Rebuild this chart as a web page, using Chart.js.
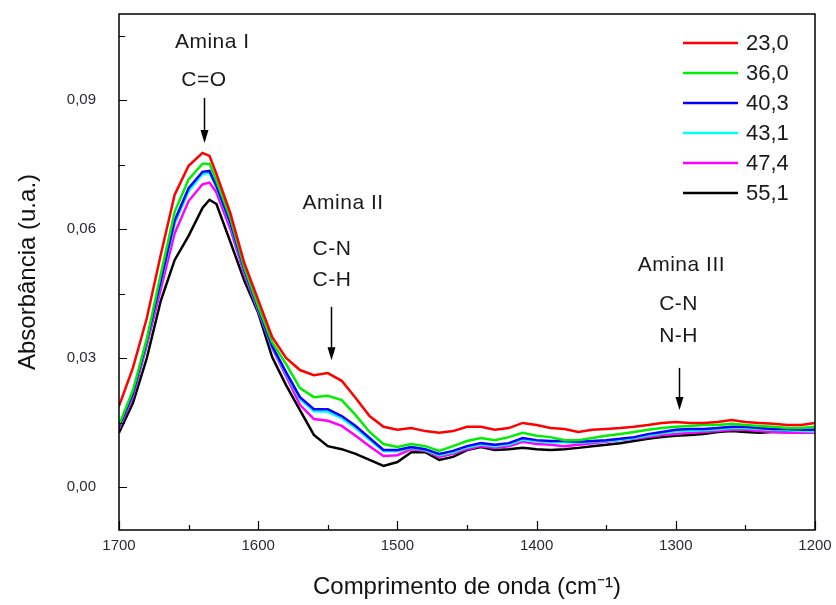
<!DOCTYPE html>
<html>
<head>
<meta charset="utf-8">
<script src="https://cdn.jsdelivr.net/npm/chart.js@4/dist/chart.umd.min.js"></script>
<style>
  html, body { margin: 0; padding: 0; background: #fff; }
  #wrap { width: 836px; height: 605px; }
</style>
</head>
<body>
<div id="wrap"><canvas id="ftir"></canvas></div>
<script>
'use strict';

// 파수 (cm-1), 왼쪽 1700 -> 오른쪽 1200
const wavenumbers = [1700, 1690, 1680, 1670, 1660, 1650, 1640, 1635, 1630, 1620, 1610, 1600,
    1590, 1580, 1570, 1560, 1550, 1540, 1530, 1520, 1510, 1500,
    1490, 1480, 1470, 1460, 1450, 1440, 1430, 1420, 1410, 1400,
    1390, 1380, 1370, 1360, 1350, 1340, 1330, 1320, 1310, 1300,
    1290, 1280, 1270, 1260, 1250, 1240, 1230, 1220, 1210, 1200];

// 흡광도 (u.a.) - 온도별
const abs_23_0 = [0.0188, 0.0277, 0.0393, 0.0540, 0.0680, 0.0747, 0.0777, 0.0770, 0.0728, 0.0637, 0.0521, 0.0435,
    0.0349, 0.0300, 0.0272, 0.0260, 0.0265, 0.0247, 0.0207, 0.0165, 0.0140, 0.0133,
    0.0137, 0.0130, 0.0126, 0.0130, 0.0140, 0.0140, 0.0133, 0.0137, 0.0149, 0.0144,
    0.0137, 0.0135, 0.0128, 0.0133, 0.0135, 0.0137, 0.0140, 0.0144, 0.0149, 0.0151,
    0.0149, 0.0149, 0.0151, 0.0156, 0.0151, 0.0149, 0.0147, 0.0144, 0.0144, 0.0149];
const abs_36_0 = [0.0144, 0.0225, 0.0345, 0.0495, 0.0640, 0.0715, 0.0752, 0.0752, 0.0712, 0.0625, 0.0510, 0.0420,
    0.0337, 0.0286, 0.0230, 0.0209, 0.0212, 0.0202, 0.0167, 0.0128, 0.0100, 0.0093,
    0.0100, 0.0095, 0.0084, 0.0095, 0.0107, 0.0114, 0.0109, 0.0116, 0.0126, 0.0119,
    0.0116, 0.0109, 0.0109, 0.0114, 0.0119, 0.0123, 0.0128, 0.0133, 0.0137, 0.0140,
    0.0142, 0.0144, 0.0144, 0.0147, 0.0144, 0.0142, 0.0140, 0.0137, 0.0137, 0.0140];
const abs_40_3 = [0.0140, 0.0218, 0.0340, 0.0480, 0.0620, 0.0695, 0.0733, 0.0735, 0.0700, 0.0615, 0.0505, 0.0415,
    0.0328, 0.0267, 0.0209, 0.0181, 0.0181, 0.0165, 0.0142, 0.0114, 0.0086, 0.0086,
    0.0093, 0.0088, 0.0077, 0.0084, 0.0095, 0.0102, 0.0098, 0.0102, 0.0114, 0.0109,
    0.0107, 0.0107, 0.0105, 0.0107, 0.0109, 0.0112, 0.0116, 0.0123, 0.0128, 0.0133,
    0.0135, 0.0135, 0.0137, 0.0140, 0.0140, 0.0137, 0.0135, 0.0135, 0.0133, 0.0133];
const abs_43_1 = [0.0140, 0.0218, 0.0338, 0.0478, 0.0612, 0.0688, 0.0728, 0.0730, 0.0697, 0.0612, 0.0503, 0.0413,
    0.0326, 0.0264, 0.0204, 0.0176, 0.0175, 0.0160, 0.0137, 0.0110, 0.0083, 0.0083,
    0.0091, 0.0086, 0.0074, 0.0081, 0.0092, 0.0099, 0.0095, 0.0099, 0.0110, 0.0106,
    0.0104, 0.0104, 0.0103, 0.0105, 0.0107, 0.0110, 0.0114, 0.0120, 0.0125, 0.0129,
    0.0131, 0.0132, 0.0134, 0.0137, 0.0137, 0.0135, 0.0133, 0.0132, 0.0130, 0.0129];
const abs_47_4 = [0.0135, 0.0210, 0.0330, 0.0460, 0.0590, 0.0665, 0.0704, 0.0708, 0.0685, 0.0600, 0.0495, 0.0410,
    0.0323, 0.0258, 0.0191, 0.0158, 0.0154, 0.0142, 0.0119, 0.0095, 0.0072, 0.0074,
    0.0088, 0.0084, 0.0070, 0.0077, 0.0088, 0.0095, 0.0091, 0.0095, 0.0105, 0.0100,
    0.0098, 0.0095, 0.0098, 0.0102, 0.0105, 0.0109, 0.0112, 0.0116, 0.0121, 0.0123,
    0.0126, 0.0128, 0.0130, 0.0133, 0.0133, 0.0130, 0.0128, 0.0126, 0.0126, 0.0126];
const abs_55_1 = [0.0126, 0.0195, 0.0300, 0.0433, 0.0528, 0.0584, 0.0649, 0.0668, 0.0658, 0.0570, 0.0480, 0.0405,
    0.0302, 0.0237, 0.0179, 0.0121, 0.0095, 0.0088, 0.0077, 0.0063, 0.0049, 0.0058,
    0.0081, 0.0081, 0.0063, 0.0070, 0.0086, 0.0093, 0.0086, 0.0088, 0.0091, 0.0088,
    0.0086, 0.0088, 0.0091, 0.0095, 0.0098, 0.0102, 0.0107, 0.0112, 0.0116, 0.0119,
    0.0121, 0.0123, 0.0128, 0.0130, 0.0128, 0.0126, 0.0128, 0.0128, 0.0128, 0.0133];

const seriesLabels = ['23,0', '36,0', '40,3', '43,1', '47,4', '55,1'];
const seriesColors = ['#ff0000', '#00ee00', '#0000ff', '#00ffff', '#ff00ff', '#000000'];
const seriesValues = [abs_23_0, abs_36_0, abs_40_3, abs_43_1, abs_47_4, abs_55_1];

// 눈금
const xMajorTicks = [1700, 1600, 1500, 1400, 1300, 1200];
const xMinorTicks = [1650, 1550, 1450, 1350, 1250];
const yMajorTicks = [0, 0.03, 0.06, 0.09];
const yMinorTicks = [0.015, 0.045, 0.075, 0.105];

// 주석 (화살표 + 글자), 데이터 좌표 기준
const notes = [
    { lines: [['Amina I', 1633, 0.1035], ['C=O', 1639, 0.0947]], arrow: [1639, 0.0905, 0.0800] },
    { lines: [['Amina II', 1539, 0.0661], ['C-N', 1547, 0.0553], ['C-H', 1547, 0.0480]], arrow: [1548, 0.0419, 0.0295] },
    { lines: [['Amina III', 1296, 0.0516], ['C-N', 1298, 0.0425], ['N-H', 1298, 0.0351]], arrow: [1298, 0.0277, 0.0179] }
];

const FONT = "'Liberation Sans', Arial, sans-serif";

// 틀, 안쪽 눈금, 주석, 범례 그리기
const framePlugin = {
    id: 'frame',
    afterDraw(chart) {
        const ctx = chart.ctx;
        const a = chart.chartArea;
        const xs = chart.scales.x;
        const ys = chart.scales.y;

        ctx.save();
        ctx.strokeStyle = '#000';
        ctx.lineWidth = 1.5;
        ctx.strokeRect(a.left, a.top, a.right - a.left, a.bottom - a.top);

        // 안쪽 눈금
        ctx.lineWidth = 1.2;
        ctx.beginPath();
        xMajorTicks.forEach(v => {
            const px = Math.round(xs.getPixelForValue(v)) + 0.5;
            ctx.moveTo(px, a.bottom); ctx.lineTo(px, a.bottom - 9);
        });
        xMinorTicks.forEach(v => {
            const px = Math.round(xs.getPixelForValue(v)) + 0.5;
            ctx.moveTo(px, a.bottom); ctx.lineTo(px, a.bottom - 5);
        });
        yMajorTicks.forEach(v => {
            const py = Math.round(ys.getPixelForValue(v)) + 0.5;
            ctx.moveTo(a.left, py); ctx.lineTo(a.left + 8, py);
        });
        yMinorTicks.forEach(v => {
            const py = Math.round(ys.getPixelForValue(v)) + 0.5;
            ctx.moveTo(a.left, py); ctx.lineTo(a.left + 6, py);
        });
        ctx.stroke();

        // 주석
        ctx.fillStyle = '#1a1a1a';
        ctx.font = '21px ' + FONT;
        ctx.letterSpacing = '0.5px';
        ctx.textAlign = 'center';
        ctx.textBaseline = 'middle';
        notes.forEach(n => {
            n.lines.forEach(l => {
                ctx.fillText(l[0], xs.getPixelForValue(l[1]), ys.getPixelForValue(l[2]));
            });
            const ax = Math.round(xs.getPixelForValue(n.arrow[0])) + 0.5;
            const y1 = ys.getPixelForValue(n.arrow[1]);
            const y2 = ys.getPixelForValue(n.arrow[2]);
            ctx.strokeStyle = '#000';
            ctx.lineWidth = 1.5;
            ctx.beginPath();
            ctx.moveTo(ax, y1); ctx.lineTo(ax, y2 - 10);
            ctx.stroke();
            ctx.fillStyle = '#000';
            ctx.beginPath();
            ctx.moveTo(ax - 4, y2 - 13);
            ctx.lineTo(ax + 4, y2 - 13);
            ctx.lineTo(ax, y2);
            ctx.closePath();
            ctx.fill();
            ctx.fillStyle = '#1a1a1a';
        });

        // 범례
        ctx.textAlign = 'left';
        ctx.font = '22px ' + FONT;
        ctx.letterSpacing = '0px';
        chart.data.datasets.forEach((ds, i) => {
            const y = a.top + 29 + i * 30;
            ctx.strokeStyle = ds.borderColor;
            ctx.lineWidth = 2.5;
            ctx.beginPath();
            ctx.moveTo(a.right - 132, y); ctx.lineTo(a.right - 77, y);
            ctx.stroke();
            ctx.fillStyle = '#1a1a1a';
            ctx.fillText(ds.label, a.right - 69, y + 1);
        });
        ctx.restore();
    }
};

window.onload = function () {
    const datasets = seriesValues.map((vals, i) => ({
        label: seriesLabels[i],
        data: wavenumbers.map((w, j) => ({ x: w, y: vals[j] })),
        borderColor: seriesColors[i],
        backgroundColor: seriesColors[i],
        borderWidth: 2.5,
        pointRadius: 0,
        tension: 0
    }));

    new Chart(document.getElementById('ftir'), {
        type: 'line',
        data: { datasets },
        options: {
            responsive: true,
            maintainAspectRatio: false,
            animation: false,
            layout: { padding: { top: 14, right: 21, left: 0, bottom: 0 } },
            plugins: { legend: { display: false }, tooltip: { enabled: false } },
            scales: {
                x: {
                    type: 'linear',
                    reverse: true,
                    min: 1200,
                    max: 1700,
                    grid: { display: false, drawTicks: false },
                    border: { display: false },
                    afterBuildTicks: s => { s.ticks = xMajorTicks.map(v => ({ value: v })); },
                    afterFit: s => { s.height = 75; s.paddingLeft = 0; s.paddingRight = 0; },
                    ticks: {
                        padding: 7,
                        color: '#2a2a33',
                        font: { family: FONT, size: 15 },
                        callback: v => String(v)
                    },
                    title: {
                        display: true,
                        text: 'Comprimento de onda (cm⁻¹)',
                        color: '#111',
                        font: { family: FONT, size: 24 },
                        padding: { top: 0, bottom: 3 }
                    }
                },
                y: {
                    min: -0.01,
                    max: 0.11,
                    grid: { display: false, drawTicks: false },
                    border: { display: false },
                    afterBuildTicks: s => { s.ticks = yMajorTicks.map(v => ({ value: v })); },
                    afterFit: s => { s.width = 119; s.paddingTop = 0; s.paddingBottom = 0; },
                    ticks: {
                        padding: 23,
                        color: '#2a2a33',
                        font: { family: FONT, size: 15 },
                        callback: v => v.toFixed(2).replace('.', ',')
                    },
                    title: {
                        display: true,
                        text: 'Absorbância (u.a.)',
                        color: '#111',
                        font: { family: FONT, size: 24 },
                        padding: { top: 14, bottom: 0 }
                    }
                }
            }
        },
        plugins: [framePlugin]
    });
};
</script>
</body>
</html>
